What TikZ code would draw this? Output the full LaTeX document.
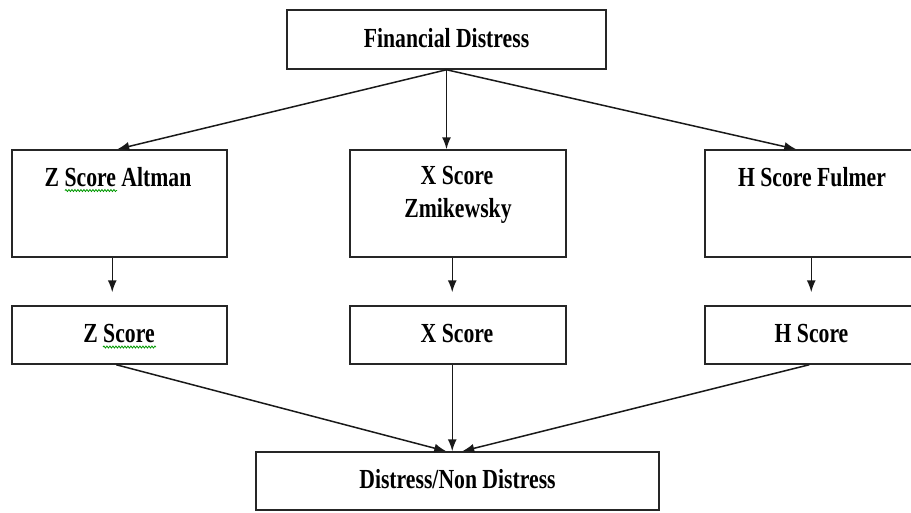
\documentclass[tikz,border=0pt]{standalone}
\usepackage{fontspec}
\usepackage{graphicx}
\setmainfont{Liberation Serif}
\usetikzlibrary{arrows.meta,decorations.pathmorphing}
\newcommand{\stretchtxt}[1]{\scalebox{1}[1.27]{\bfseries #1}}
\begin{document}
\begin{tikzpicture}[x=1pt,y=-1pt,
  box/.style={draw=black!85,line width=1.5pt,rectangle,inner sep=0pt,fill=white},
  lbl/.style={inner sep=0pt,font=\fontsize{21.7}{26}\selectfont},
  conn/.style={draw=black!90,line width=1.5pt,-{Latex[length=12pt,width=9pt]}},
  spell/.style={draw=green!60!black,line width=0.8pt,decorate,decoration={snake,segment length=3pt,amplitude=1pt}}]
\useasboundingbox (0,0) rectangle (911,512);
% boxes
\node[box,minimum width=319pt,minimum height=59pt] (top) at (446.5,39.5) {};
\node[box,minimum width=215pt,minimum height=107pt] (za) at (119.5,203.5) {};
\node[box,minimum width=216pt,minimum height=107pt] (xz) at (458,203.5) {};
\node[box,minimum width=213pt,minimum height=107pt] (hf) at (811.5,203.5) {};
\node[box,minimum width=215pt,minimum height=58pt] (zs) at (119.5,335) {};
\node[box,minimum width=216pt,minimum height=58pt] (xs) at (458,335) {};
\node[box,minimum width=213pt,minimum height=58pt] (hs) at (811.5,335) {};
\node[box,minimum width=403pt,minimum height=58pt] (dn) at (457.5,481) {};
% texts
\node[lbl,anchor=base] (ttop) at (446.5,47) {\stretchtxt{Financial Distress}};
\node[lbl,anchor=base] (tza) at (118,186) {\stretchtxt{Z Score Altman}};
\node[lbl,anchor=base] (txz1) at (457,184) {\stretchtxt{X Score}};
\node[lbl,anchor=base] (txz2) at (458,217) {\stretchtxt{Zmikewsky}};
\node[lbl,anchor=base] (thf) at (812,186) {\stretchtxt{H Score Fulmer}};
\node[lbl,anchor=base] (tzs) at (119,342) {\stretchtxt{Z Score}};
\node[lbl,anchor=base] (txs) at (457,342) {\stretchtxt{X Score}};
\node[lbl,anchor=base] (ths) at (811.5,342) {\stretchtxt{H Score}};
\node[lbl,anchor=base] (tdn) at (457.5,488) {\stretchtxt{Distress/Non Distress}};
% spell-check underlines
\coordinate (s1a) at (65,190.5);
\coordinate (s1b) at (117,190.5);
\coordinate (s2a) at (103,347);
\coordinate (s2b) at (156,347);
\draw[spell] (s1a) -- (s1b);
\draw[spell] (s2a) -- (s2b);
% connectors
\draw[conn] (top.south) -- ([xshift=106pt]za.north west);
\draw[conn] (top.south) -- (top.south |- xz.north);
\draw[conn] (top.south) -- ([xshift=92pt]hf.north west);
\draw[conn,shorten >=13pt] ([xshift=101pt]za.south west) -- ([xshift=101pt]zs.north west);
\draw[conn,shorten >=13pt] ([xshift=103pt]xz.south west) -- ([xshift=103pt]xs.north west);
\draw[conn,shorten >=13pt] ([xshift=107pt]hf.south west) -- ([xshift=107pt]hs.north west);
\draw[conn] ([xshift=105pt]zs.south west) -- ([xshift=191pt]dn.north west);
\draw[conn] ([xshift=103pt]xs.south west) -- ([xshift=197pt]dn.north west);
\draw[conn] ([xshift=105pt]hs.south west) -- ([xshift=207pt]dn.north west);
\end{tikzpicture}
\end{document}
